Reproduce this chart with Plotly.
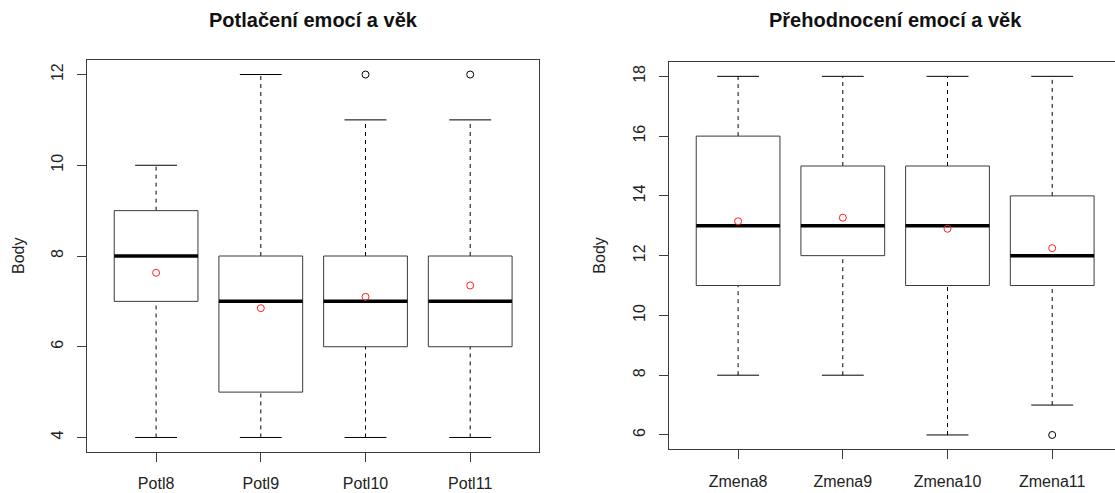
import plotly.graph_objects as go

# ---------------- data ----------------
left_title = "Potlačení emocí a věk"
right_title = "Přehodnocení emocí a věk"
y_label = "Body"

potl_cats = ["Potl8", "Potl9", "Potl10", "Potl11"]
potl_lower = [4, 4, 4, 4]
potl_q1 = [7, 5, 6, 6]
potl_median = [8, 7, 7, 7]
potl_q3 = [9, 8, 8, 8]
potl_upper = [10, 12, 11, 11]
potl_mean = [7.63, 6.85, 7.10, 7.35]
potl_outliers = [[], [], [12], [12]]
potl_ticks = [4, 6, 8, 10, 12]

zmena_cats = ["Zmena8", "Zmena9", "Zmena10", "Zmena11"]
zmena_lower = [8, 8, 6, 7]
zmena_q1 = [11, 12, 11, 11]
zmena_median = [13, 13, 13, 12]
zmena_q3 = [16, 15, 15, 14]
zmena_upper = [18, 18, 18, 18]
zmena_mean = [13.15, 13.27, 12.90, 12.25]
zmena_outliers = [[], [], [], [6]]
zmena_ticks = [6, 8, 10, 12, 14, 16, 18]

# ---------------- style ----------------
W, H = 1115, 493
FONT = "Liberation Sans, Arial, sans-serif"
LINE = "#3a3a3a"
BOXWEX = 0.8
STAPLE = 0.4


def px_x(p):
    return p / W


def px_y(p):
    return 1 - p / H


fig = go.Figure()


def add_panel(xa, ya, cats, lower, q1, med, q3, upper, mean, outl):
    n = len(cats)
    bx, by, mx, my, wx, wy, cx, cy = [], [], [], [], [], [], [], []
    ox, oy = [], []
    for i in range(n):
        c = i + 1
        h = BOXWEX / 2
        bx += [c - h, c + h, c + h, c - h, c - h, None]
        by += [q1[i], q1[i], q3[i], q3[i], q1[i], None]
        mx += [c - h, c + h, None]
        my += [med[i], med[i], None]
        wx += [c, c, None, c, c, None]
        wy += [q3[i], upper[i], None, lower[i], q1[i], None]
        s = STAPLE / 2
        cx += [c - s, c + s, None, c - s, c + s, None]
        cy += [upper[i], upper[i], None, lower[i], lower[i], None]
        for o in outl[i]:
            ox.append(c)
            oy.append(o)
    common = dict(xaxis=xa, yaxis=ya, showlegend=False, hoverinfo="skip", mode="lines")
    fig.add_trace(go.Scatter(x=wx, y=wy, line=dict(color="black", width=1, dash="4px,4px"), **common))
    fig.add_trace(go.Scatter(x=cx, y=cy, line=dict(color="black", width=1), **common))
    fig.add_trace(go.Scatter(x=bx, y=by, line=dict(color=LINE, width=1), **common))
    fig.add_trace(go.Scatter(x=mx, y=my, line=dict(color="black", width=3.5), **common))
    fig.add_trace(go.Scatter(x=ox, y=oy, mode="markers", xaxis=xa, yaxis=ya, showlegend=False,
                             marker=dict(symbol="circle-open", size=7, color="black", line=dict(width=1))))
    fig.add_trace(go.Scatter(x=list(range(1, n + 1)), y=mean, mode="markers", xaxis=xa, yaxis=ya,
                             showlegend=False,
                             marker=dict(symbol="circle-open", size=7, color="#ff2020", line=dict(width=1))))


add_panel("x", "y", potl_cats, potl_lower, potl_q1, potl_median, potl_q3, potl_upper, potl_mean, potl_outliers)
add_panel("x2", "y2", zmena_cats, zmena_lower, zmena_q1, zmena_median, zmena_q3, zmena_upper, zmena_mean,
          zmena_outliers)

# panel geometry (pixels)
L_x0, L_x1, L_top, L_bot = 87, 539.3, 60, 452
R_x0, R_top, R_bot = 669, 62, 449.3
ppu = (L_x1 - L_x0) / 4.32
R_full = R_x0 + 4.32 * ppu          # where the original's right frame would be (off-screen)
R_x1 = W                            # visible part ends at the window edge
r_xmax = 0.34 + (R_x1 - R_x0) / ppu

axis_common = dict(showgrid=False, zeroline=False, showline=True, linecolor=LINE, linewidth=1,
                   ticks="outside", ticklen=9, tickcolor=LINE, tickwidth=1, ticklabelstandoff=8,
                   tickfont=dict(family=FONT, size=16, color="#222"))

fig.update_layout(
    width=W, height=H, margin=dict(l=0, r=0, t=0, b=0),
    paper_bgcolor="white", plot_bgcolor="white",
    xaxis=dict(domain=[px_x(L_x0), px_x(L_x1)], range=[0.34, 4.66], tickvals=[1, 2, 3, 4],
               ticktext=potl_cats, mirror=True, anchor="y", **axis_common),
    yaxis=dict(domain=[px_y(L_bot), px_y(L_top)], range=[3.68, 12.32], tickvals=potl_ticks,
               tickangle=-90, mirror=True, anchor="x", **axis_common),
    xaxis2=dict(domain=[px_x(R_x0), 1.0], range=[0.34, r_xmax], tickvals=[1, 2, 3, 4],
                ticktext=zmena_cats, mirror=True, anchor="y2", **axis_common),
    yaxis2=dict(domain=[px_y(R_bot), px_y(R_top)], range=[5.52, 18.48], tickvals=zmena_ticks,
                tickangle=-90, mirror=False, anchor="x2", **axis_common),
)

annos = [
    dict(text=left_title, x=px_x((L_x0 + L_x1) / 2), y=px_y(20), font=dict(size=20, weight="bold")),
    dict(text=right_title, x=px_x((R_x0 + R_full) / 2), y=px_y(20), font=dict(size=20, weight="bold")),
    dict(text=y_label, x=px_x(L_x0 - 69), y=px_y((L_top + L_bot) / 2), textangle=-90, font=dict(size=16)),
    dict(text=y_label, x=px_x(R_x0 - 69), y=px_y((R_top + R_bot) / 2), textangle=-90, font=dict(size=16)),
]
for a in annos:
    a["font"].update(family=FONT, color="#111" if a["font"]["size"] == 20 else "#222")
    fig.add_annotation(xref="paper", yref="paper", showarrow=False, xanchor="center", yanchor="middle", **a)

fig.write_html("out.html")

with open("out.html", "r", encoding="utf-8") as f:
    html = f.read()
html = html.replace("<head>", "<head><style>html,body{margin:0;padding:0;overflow:hidden;}</style>", 1)
with open("out.html", "w", encoding="utf-8") as f:
    f.write(html)
